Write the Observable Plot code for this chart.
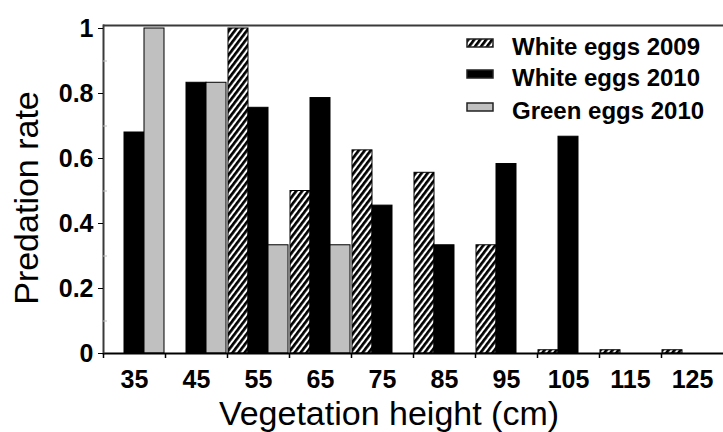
<!DOCTYPE html>
<html><head><meta charset="utf-8">
<script src="https://cdn.jsdelivr.net/npm/d3@7"></script>
<script src="https://cdn.jsdelivr.net/npm/@observablehq/plot@0.6"></script>
<style>
html,body{margin:0;padding:0;background:#fff;}
#chart{width:723px;height:432px;}
</style></head><body><div id="chart"></div>
<script>
// ---- data ----
const heights = [35, 45, 55, 65, 75, 85, 95, 105, 115, 125];
const seriesNames = ["White eggs 2009", "White eggs 2010", "Green eggs 2010"];
const white2009 = [null, null, 1.0, 0.5, 0.625, 0.556, 0.333, 0.01, 0.01, 0.01];
const white2010 = [0.68, 0.833, 0.756, 0.786, 0.455, 0.333, 0.583, 0.667, null, null];
const green2010 = [1.0, 0.833, 0.333, 0.333, null, null, null, null, null, null];
const yTicks = [0, 0.2, 0.4, 0.6, 0.8, 1];
const yMinorTicks = [0.1, 0.3, 0.5, 0.7, 0.9];
const xTitle = "Vegetation height (cm)";
const yTitle = "Predation rate";

const fills = ["url(#hatch)", "#000000", "#c0c0c0"];

const rows = [];
[white2009, white2010, green2010].forEach((vals, i) =>
  vals.forEach((v, j) => { if (v != null) rows.push({height: heights[j], series: seriesNames[i], value: v}); })
);

const font = "'Liberation Sans', Arial, sans-serif";

const plot = Plot.plot({
  width: 723,
  height: 432,
  marginLeft: 103,
  marginRight: 0,
  marginTop: 28,
  marginBottom: 79,
  style: {fontFamily: font, background: "white", color: "black", overflow: "visible"},
  fx: {domain: heights, padding: 0, axis: null, label: null},
  x: {domain: seriesNames, paddingInner: 0, paddingOuter: 0.05, axis: null, label: null},
  y: {domain: [0, 1], axis: null, label: null},
  color: {domain: seriesNames, range: fills},
  marks: [
    Plot.barY(rows, {fx: "height", x: "series", y: "value", fill: "series", stroke: "#000", strokeWidth: 1}),
    Plot.ruleY([0], {stroke: "#000", strokeWidth: 2}),
    Plot.ruleY([1], {stroke: "#3a3a3a", strokeWidth: 2, dy: -3}),
    Plot.frame({anchor: "left", facetAnchor: "left", stroke: "#3a3a3a", strokeWidth: 2, insetTop: -3}),
    Plot.axisY({ticks: yTicks, tickFormat: d3.format("~g"), tickSize: 5, tickPadding: 5,
                fontSize: 25, fontWeight: "bold", label: null, stroke: "#000"}),
    Plot.axisY({ticks: yMinorTicks, tickFormat: () => "", tickSize: -4, label: null, stroke: "#bbb"}),
    Plot.axisFx({anchor: "bottom", tickSize: 5, tickFormat: () => "", dx: -31, label: null, stroke: "#000", strokeWidth: 1.5}),
    Plot.axisFx({anchor: "bottom", tickSize: 0, tickPadding: 17, fontSize: 25, fontWeight: "bold", label: null})
  ]
});

document.getElementById("chart").appendChild(plot);

// ---- hatch pattern ----
const svg = d3.select(plot);
const defs = svg.insert("defs", ":first-child");
const pat = defs.append("pattern").attr("id", "hatch")
  .attr("patternUnits", "userSpaceOnUse")
  .attr("width", 4.8).attr("height", 10)
  .attr("patternTransform", "rotate(37)");
pat.append("rect").attr("width", 4.8).attr("height", 10).attr("fill", "white");
pat.append("rect").attr("x", 0).attr("y", 0).attr("width", 2.7).attr("height", 10).attr("fill", "black");

// ---- axis titles ----
svg.append("text")
  .attr("transform", "translate(38,198) rotate(-90)")
  .attr("text-anchor", "middle")
  .attr("font-family", font).attr("font-size", 34).attr("fill", "#000")
  .text(yTitle);
svg.append("text")
  .attr("x", 389).attr("y", 425)
  .attr("text-anchor", "middle")
  .attr("font-family", font).attr("font-size", 34).attr("fill", "#000")
  .text(xTitle);

// ---- legend ----
const lg = svg.append("g").attr("transform", "translate(467,39)");
const rowY = [0, 31, 64];
seriesNames.forEach((name, i) => {
  const g = lg.append("g").attr("transform", `translate(0,${rowY[i]})`);
  g.append("rect").attr("width", 26).attr("height", 8)
    .attr("fill", fills[i]).attr("stroke", "#222").attr("stroke-width", 1.5);
  g.append("text").attr("x", 45).attr("y", 16)
    .attr("text-anchor", "start")
    .attr("font-family", font).attr("font-size", 24).attr("font-weight", "bold").attr("fill", "#000")
    .text(name);
});
</script>
</body></html>
